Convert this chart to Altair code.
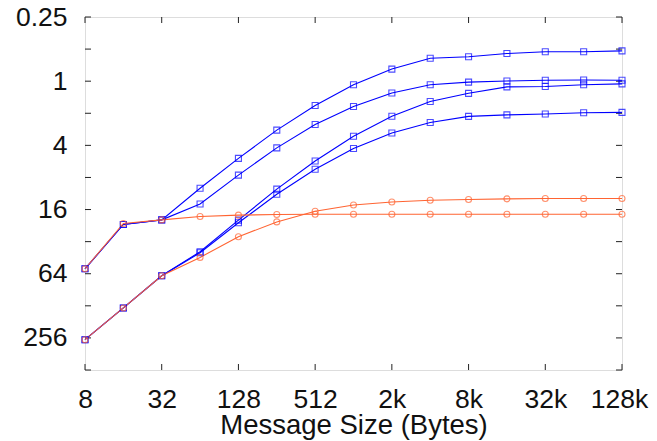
import altair as alt
import pandas as pd

# Message sizes (bytes), powers of two from 8 to 128k
sizes = [8, 16, 32, 64, 128, 256, 512, 1024, 2048, 4096, 8192, 16384, 32768, 65536, 131072]

# Series values (log2 y-axis)
blue_a1 = [57.5, 22.1, 20.0, 10.1, 5.3, 2.88, 1.69, 1.08, 0.77, 0.61, 0.59, 0.55, 0.53, 0.53, 0.52]
blue_a2 = [57.5, 22.1, 20.0, 14.2, 7.6, 4.22, 2.55, 1.73, 1.29, 1.08, 1.02, 0.995, 0.98, 0.975, 0.98]
blue_b1 = [266, 134, 66.9, 39.8, 20.1, 10.3, 5.6, 3.28, 2.13, 1.55, 1.30, 1.13, 1.12, 1.08, 1.06]
blue_b2 = [266, 134, 66.9, 40.7, 21.3, 11.5, 6.7, 4.28, 3.06, 2.44, 2.14, 2.07, 2.03, 1.98, 1.96]
orange_a = [57.5, 21.6, 20.0, 18.6, 18.05, 17.8, 17.7, 17.7, 17.7, 17.7, 17.7, 17.7, 17.7, 17.7, 17.7]
orange_b = [266, 134, 66.9, 45.0, 28.8, 20.9, 16.6, 14.5, 13.6, 13.1, 12.9, 12.7, 12.6, 12.6, 12.6]

series_names = ["blue_a1", "blue_a2", "blue_b1", "blue_b2", "orange_a", "orange_b"]
series_values = [blue_a1, blue_a2, blue_b1, blue_b2, orange_a, orange_b]
series_colors = ["#0000ff", "#0000ff", "#0000ff", "#0000ff", "#ff6432", "#ff6432"]
series_shapes = ["square", "square", "square", "square", "circle", "circle"]

# Axis ticks
x_ticks = [8, 32, 128, 512, 2048, 8192, 32768, 131072]
y_ticks = [0.25, 0.5, 1, 2, 4, 8, 16, 32, 64, 128, 256, 512]
y_labels = [0.25, 1, 4, 16, 64, 256]

rows = []
for name, vals in zip(series_names, series_values):
    for s, v in zip(sizes, vals):
        rows.append({"size": s, "value": v, "series": name})
df = pd.DataFrame(rows)

W, H = 537, 353
FONT = "Liberation Sans"
TICK = 6

xscale = alt.Scale(type="log", base=2, domain=[8, 131072], nice=False, zero=False)
yscale = alt.Scale(type="log", base=2, domain=[0.25, 512], nice=False, zero=False, reverse=True)

xaxis = alt.Axis(
    values=x_ticks, title="Message Size (Bytes)", grid=False, ticks=False, tickSize=0,
    domain=False, labelFlush=False, labelOverlap=False,
    labelExpr="datum.value >= 1024 ? (datum.value / 1024) + 'k' : '' + datum.value",
    labelOffset={"condition": {"test": "datum.value == 131072", "value": -3}, "value": 0},
    labelFont=FONT, labelFontSize=26.5, labelColor="#111111", labelBaseline="alphabetic",
    labelPadding=37, titleFont=FONT, titleFontSize=27.5, titleFontWeight="normal",
    titleColor="#111111", titleBaseline="alphabetic", titleY=63.5,
)
yaxis = alt.Axis(
    values=y_labels, title=None, grid=False, ticks=False, tickSize=0, domain=False,
    labelFlush=False, labelOverlap=False, labelExpr="'' + datum.value",
    labelFont=FONT, labelFontSize=26.5, labelColor="#111111", labelBaseline="middle",
    labelPadding=18,
)

color = alt.Color("series:N", scale=alt.Scale(domain=series_names, range=series_colors), legend=None)
shape = alt.Shape("series:N", scale=alt.Scale(domain=series_names, range=series_shapes), legend=None)

X = alt.X("size:Q", scale=xscale, axis=xaxis)
Y = alt.Y("value:Q", scale=yscale, axis=yaxis)

lines = alt.Chart(df).mark_line(strokeWidth=1.1).encode(x=X, y=Y, color=color, detail="series:N")
points = alt.Chart(df).mark_point(filled=False, strokeWidth=1.1, size=36).encode(
    x=X, y=Y, color=color, shape=shape
)

xt = pd.DataFrame({"size": x_ticks})
yt = pd.DataFrame({"value": y_ticks})
tick_color = "#222222"
top_ticks = alt.Chart(xt).mark_rule(color=tick_color, strokeWidth=1).encode(
    x=X, y=alt.value(0), y2=alt.value(TICK))
bottom_ticks = alt.Chart(xt).mark_rule(color=tick_color, strokeWidth=1).encode(
    x=X, y=alt.value(H - TICK), y2=alt.value(H))
left_ticks = alt.Chart(yt).mark_rule(color=tick_color, strokeWidth=1).encode(
    y=Y, x=alt.value(0), x2=alt.value(TICK))
right_ticks = alt.Chart(yt).mark_rule(color=tick_color, strokeWidth=1).encode(
    y=Y, x=alt.value(W - TICK), x2=alt.value(W))

chart = alt.layer(
    top_ticks, bottom_ticks, left_ticks, right_ticks, lines, points
).properties(
    width=W, height=H,
    autosize=alt.AutoSizeParams(type="none"),
    padding={"left": 77, "top": 9, "right": 27, "bottom": 70},
).configure_view(
    stroke="black", strokeWidth=1.2
).configure(background="white")

chart.save("out.html", embed_options={"renderer": "svg", "actions": False})
